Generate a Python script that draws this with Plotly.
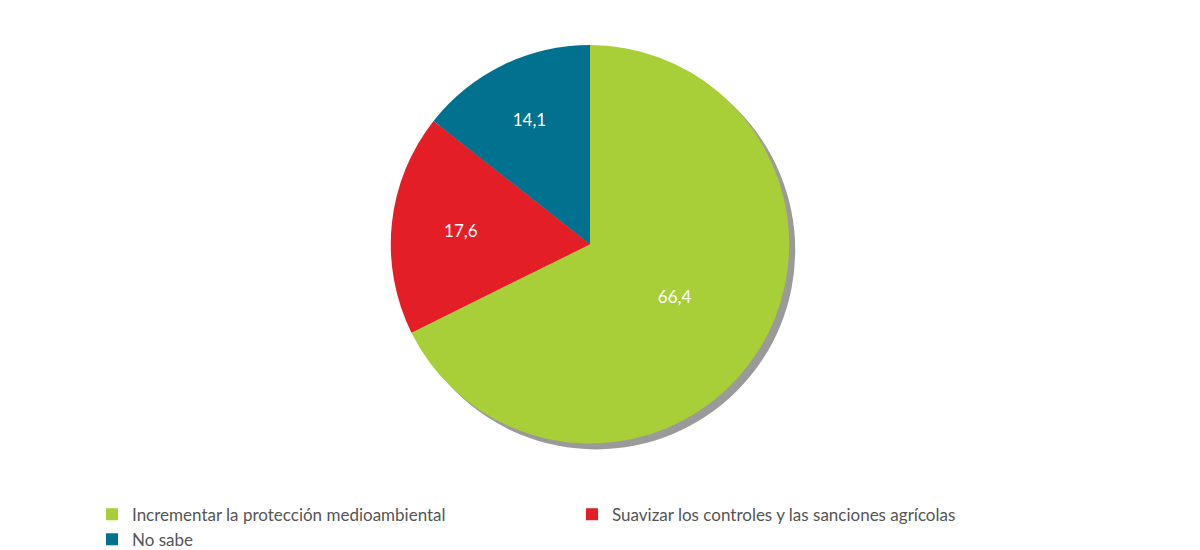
import plotly.graph_objects as go

labels = ["Incrementar la protección medioambiental", "Suavizar los controles y las sanciones agrícolas", "No sabe"]
values = [66.4, 17.6, 14.1]
text_labels = ["66,4", "17,6", "14,1"]
colors = ["#a8cf38", "#e41e26", "#00718f"]

fig = go.Figure()
# shadow
fig.add_trace(go.Pie(values=[sum(values)], marker=dict(colors=["#9a9a9a"]), textinfo="none",
                     hoverinfo="skip", showlegend=False, sort=False,
                     domain=dict(x=[0.320, 0.660], y=[0.178, 0.920])))
fig.add_trace(go.Pie(labels=labels, values=values, text=text_labels, textinfo="text",
                     textposition="inside", insidetextorientation="horizontal",
                     textfont=dict(color="white", size=17, family="Lato"),
                     marker=dict(colors=colors), sort=False, direction="clockwise", rotation=0,
                     domain=dict(x=[0.315, 0.655], y=[0.189, 0.931])))
fig.update_layout(width=1200, height=550, paper_bgcolor="white", plot_bgcolor="white",
                  margin=dict(l=0, r=0, t=0, b=0),
                  legend=dict(orientation="h", x=0.07, y=0.09, xanchor="left", yanchor="top",
                              font=dict(size=17, color="#555555", family="Lato"),
                              entrywidth=435, entrywidthmode="pixels"))
fig.write_html("out.html")
